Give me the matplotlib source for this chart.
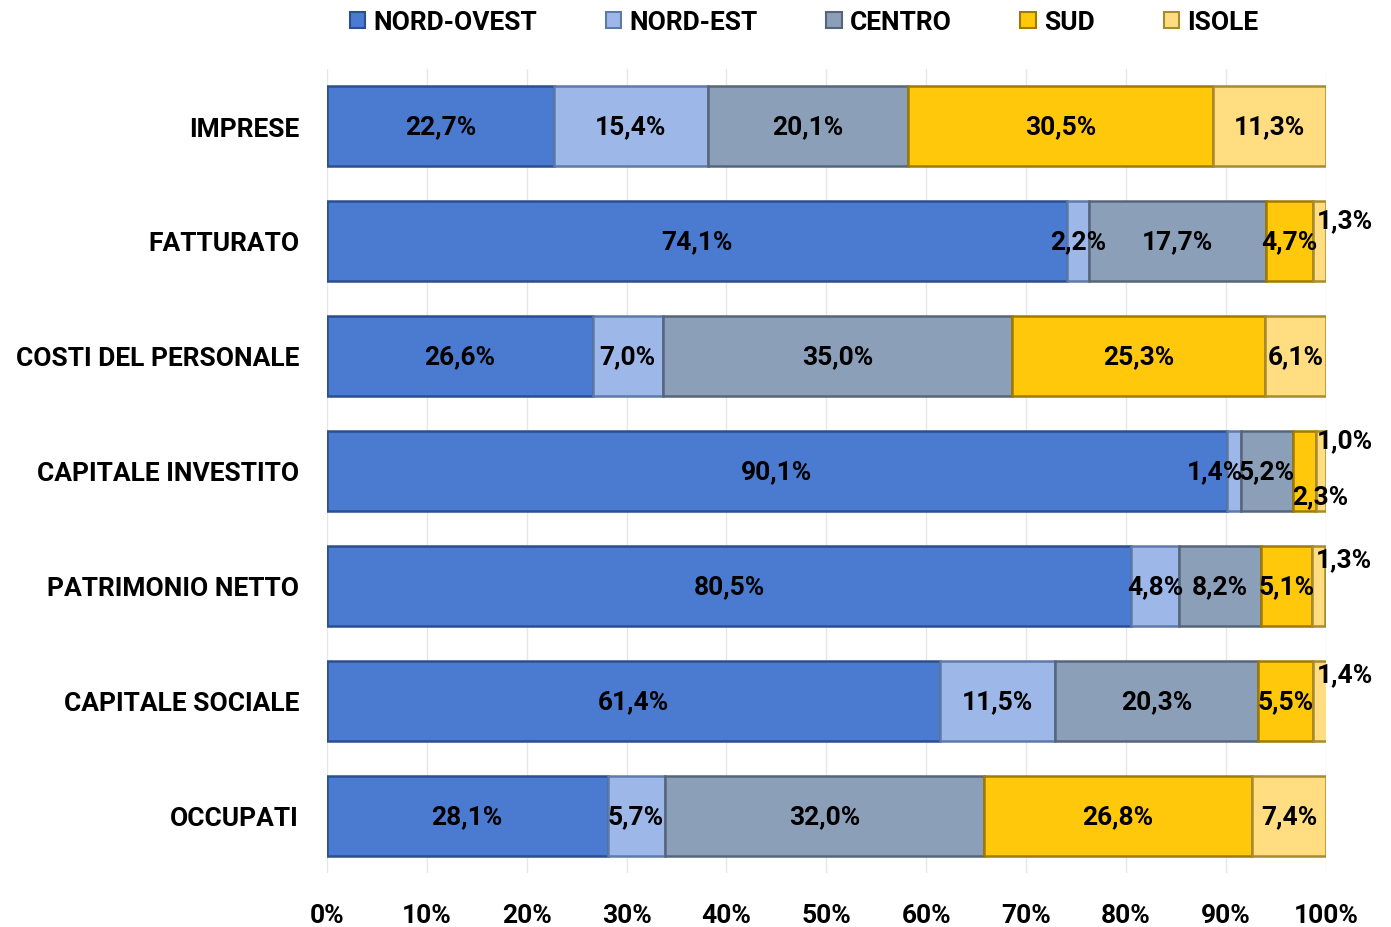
import numpy as np
import matplotlib.pyplot as plt
from matplotlib.patches import Patch

# Ripartizione territoriale (%)
categorie = ["IMPRESE", "FATTURATO", "COSTI DEL PERSONALE", "CAPITALE INVESTITO",
             "PATRIMONIO NETTO", "CAPITALE SOCIALE", "OCCUPATI"]
aree = ["NORD-OVEST", "NORD-EST", "CENTRO", "SUD", "ISOLE"]

nord_ovest = [22.7, 74.1, 26.6, 90.1, 80.5, 61.4, 28.1]
nord_est = [15.4, 2.2, 7.0, 1.4, 4.8, 11.5, 5.7]
centro = [20.1, 17.7, 35.0, 5.2, 8.2, 20.3, 32.0]
sud = [30.5, 4.7, 25.3, 2.3, 5.1, 5.5, 26.8]
isole = [11.3, 1.3, 6.1, 1.0, 1.3, 1.4, 7.4]

serie = [nord_ovest, nord_est, centro, sud, isole]
colori = ["#4A7BD0", "#9DB8E8", "#8C9FB8", "#FFC80A", "#FFDD80"]
bordi = ["#2B4F8F", "#5E7AA8", "#56657A", "#A07A00", "#A88A30"]

# spostamenti etichette (punti) per i segmenti piccoli, come fa Excel
offset = {
    (1, 4): (18, 15),
    (3, 1): (-14, 0),
    (3, 4): (17, 22),
    (3, 3): (11, -18),
    (4, 4): (18, 19),
    (5, 4): (18, 19),
}

plt.rcParams['font.family'] = ['Roboto', 'DejaVu Sans']

fig = plt.figure(figsize=(13.91, 9.28), dpi=100)
ax = fig.add_axes([0.235, 0.0577, 0.7182, 0.8674])

y = np.arange(len(categorie))
sinistra = np.zeros(len(categorie))
for j, (vals, c, b, nome) in enumerate(zip(serie, colori, bordi, aree)):
    vals = np.array(vals)
    ax.barh(y, vals, left=sinistra, height=0.7, color=c, edgecolor=b,
            linewidth=1.8, label=nome, zorder=3)
    for i, v in enumerate(vals):
        dx, dy = offset.get((i, j), (0, 0))
        ax.annotate(f"{v:.1f}%".replace(".", ","),
                    xy=(sinistra[i] + v / 2, y[i]), xytext=(dx, dy),
                    textcoords="offset points", ha="center", va="center",
                    fontsize=19, fontweight="bold", color="black", zorder=5)
    sinistra += vals

ax.set_xlim(0, 100)
ax.set_ylim(len(categorie) - 0.5, -0.5)
ax.set_xticks(np.arange(0, 101, 10))
ax.set_xticklabels([f"{t}%" for t in range(0, 101, 10)])
ax.set_yticks(y)
ax.set_yticklabels(categorie)
ax.tick_params(axis="both", length=0, labelsize=19)
ax.tick_params(axis="x", pad=21)
ax.tick_params(axis="y", pad=20)
for lab in ax.get_xticklabels() + ax.get_yticklabels():
    lab.set_fontweight("bold")
ax.grid(axis="x", color="#E6E6E6", linewidth=1, zorder=0)
for s in ax.spines.values():
    s.set_visible(False)

handles = [Patch(facecolor=c, edgecolor=b, linewidth=1.5) for c, b in zip(colori, bordi)]
fig.legend(handles, aree, loc="center", bbox_to_anchor=(0.578, 0.975), ncol=5,
           frameon=False, prop={"size": 19, "weight": "bold"},
           handlelength=0.6, handleheight=0.6, handletextpad=0.3, columnspacing=2.6)

fig.savefig("out.png", dpi=100, facecolor="white")
